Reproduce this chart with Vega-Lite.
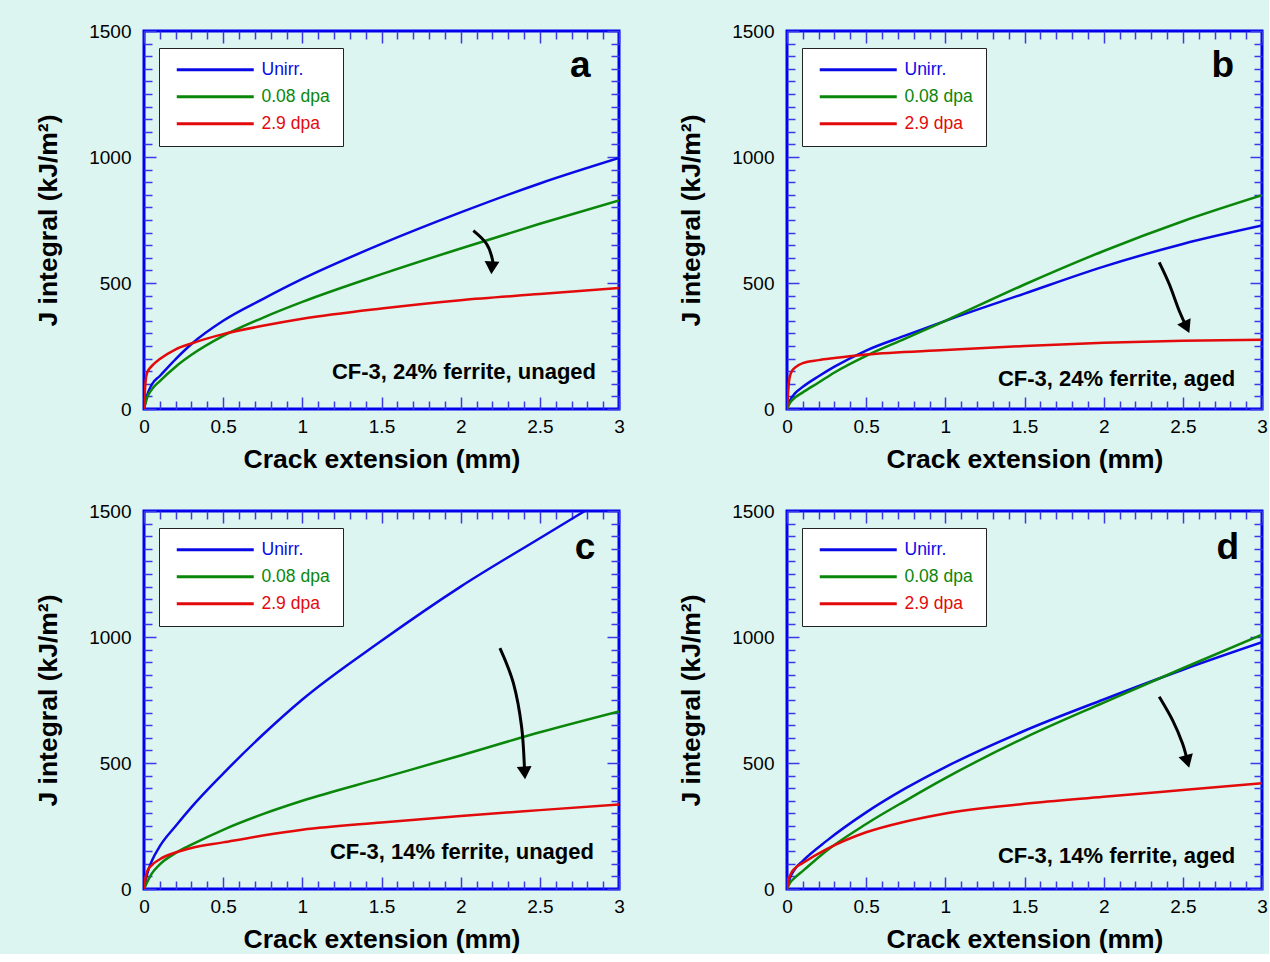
{
  "$schema": "https://vega.github.io/schema/vega-lite/v6.json",
  "background": "#ddf5f0",
  "padding": {"left": 34, "top": 20, "right": 0, "bottom": 0},
  "columns": 2,
  "spacing": {"column": 51, "row": 26},
  "resolve": {"scale": {"color": "independent"}, "legend": {"color": "independent"}},
  "datasets": {
    "curves": [
      {"p":"a","s":"Unirr.","x":0,"J":0},{"p":"a","s":"Unirr.","x":0.02,"J":55},{"p":"a","s":"Unirr.","x":0.05,"J":98},{"p":"a","s":"Unirr.","x":0.1,"J":131},{"p":"a","s":"Unirr.","x":0.2,"J":198},{"p":"a","s":"Unirr.","x":0.3,"J":258},{"p":"a","s":"Unirr.","x":0.5,"J":350},{"p":"a","s":"Unirr.","x":0.75,"J":436},{"p":"a","s":"Unirr.","x":1,"J":516},{"p":"a","s":"Unirr.","x":1.5,"J":655},{"p":"a","s":"Unirr.","x":2,"J":780},{"p":"a","s":"Unirr.","x":2.5,"J":895},{"p":"a","s":"Unirr.","x":3,"J":996},
      {"p":"a","s":"0.08 dpa","x":0,"J":0},{"p":"a","s":"0.08 dpa","x":0.02,"J":45},{"p":"a","s":"0.08 dpa","x":0.05,"J":78},{"p":"a","s":"0.08 dpa","x":0.1,"J":111},{"p":"a","s":"0.08 dpa","x":0.2,"J":168},{"p":"a","s":"0.08 dpa","x":0.3,"J":215},{"p":"a","s":"0.08 dpa","x":0.5,"J":290},{"p":"a","s":"0.08 dpa","x":0.75,"J":362},{"p":"a","s":"0.08 dpa","x":1,"J":425},{"p":"a","s":"0.08 dpa","x":1.5,"J":535},{"p":"a","s":"0.08 dpa","x":2,"J":637},{"p":"a","s":"0.08 dpa","x":2.5,"J":735},{"p":"a","s":"0.08 dpa","x":3,"J":828},
      {"p":"a","s":"2.9 dpa","x":0,"J":0},{"p":"a","s":"2.9 dpa","x":0.01,"J":110},{"p":"a","s":"2.9 dpa","x":0.02,"J":144},{"p":"a","s":"2.9 dpa","x":0.05,"J":171},{"p":"a","s":"2.9 dpa","x":0.1,"J":198},{"p":"a","s":"2.9 dpa","x":0.2,"J":237},{"p":"a","s":"2.9 dpa","x":0.3,"J":260},{"p":"a","s":"2.9 dpa","x":0.5,"J":297},{"p":"a","s":"2.9 dpa","x":0.75,"J":330},{"p":"a","s":"2.9 dpa","x":1,"J":358},{"p":"a","s":"2.9 dpa","x":1.5,"J":399},{"p":"a","s":"2.9 dpa","x":2,"J":432},{"p":"a","s":"2.9 dpa","x":2.5,"J":456},{"p":"a","s":"2.9 dpa","x":3,"J":480},

      {"p":"b","s":"Unirr.","x":0,"J":0},{"p":"b","s":"Unirr.","x":0.02,"J":35},{"p":"b","s":"Unirr.","x":0.05,"J":62},{"p":"b","s":"Unirr.","x":0.1,"J":88},{"p":"b","s":"Unirr.","x":0.2,"J":130},{"p":"b","s":"Unirr.","x":0.3,"J":168},{"p":"b","s":"Unirr.","x":0.5,"J":232},{"p":"b","s":"Unirr.","x":0.75,"J":292},{"p":"b","s":"Unirr.","x":1,"J":350},{"p":"b","s":"Unirr.","x":1.5,"J":458},{"p":"b","s":"Unirr.","x":2,"J":565},{"p":"b","s":"Unirr.","x":2.5,"J":655},{"p":"b","s":"Unirr.","x":3,"J":728},
      {"p":"b","s":"0.08 dpa","x":0,"J":0},{"p":"b","s":"0.08 dpa","x":0.02,"J":25},{"p":"b","s":"0.08 dpa","x":0.05,"J":45},{"p":"b","s":"0.08 dpa","x":0.1,"J":66},{"p":"b","s":"0.08 dpa","x":0.2,"J":105},{"p":"b","s":"0.08 dpa","x":0.3,"J":145},{"p":"b","s":"0.08 dpa","x":0.5,"J":211},{"p":"b","s":"0.08 dpa","x":0.75,"J":280},{"p":"b","s":"0.08 dpa","x":1,"J":350},{"p":"b","s":"0.08 dpa","x":1.5,"J":494},{"p":"b","s":"0.08 dpa","x":2,"J":627},{"p":"b","s":"0.08 dpa","x":2.5,"J":745},{"p":"b","s":"0.08 dpa","x":3,"J":848},
      {"p":"b","s":"2.9 dpa","x":0,"J":0},{"p":"b","s":"2.9 dpa","x":0.015,"J":120},{"p":"b","s":"2.9 dpa","x":0.03,"J":150},{"p":"b","s":"2.9 dpa","x":0.05,"J":164},{"p":"b","s":"2.9 dpa","x":0.1,"J":182},{"p":"b","s":"2.9 dpa","x":0.2,"J":194},{"p":"b","s":"2.9 dpa","x":0.3,"J":202},{"p":"b","s":"2.9 dpa","x":0.5,"J":216},{"p":"b","s":"2.9 dpa","x":1,"J":234},{"p":"b","s":"2.9 dpa","x":1.5,"J":250},{"p":"b","s":"2.9 dpa","x":2,"J":263},{"p":"b","s":"2.9 dpa","x":2.5,"J":271},{"p":"b","s":"2.9 dpa","x":3,"J":275},

      {"p":"c","s":"Unirr.","x":0,"J":0},{"p":"c","s":"Unirr.","x":0.02,"J":60},{"p":"c","s":"Unirr.","x":0.05,"J":112},{"p":"c","s":"Unirr.","x":0.1,"J":170},{"p":"c","s":"Unirr.","x":0.2,"J":250},{"p":"c","s":"Unirr.","x":0.3,"J":325},{"p":"c","s":"Unirr.","x":0.5,"J":458},{"p":"c","s":"Unirr.","x":0.75,"J":612},{"p":"c","s":"Unirr.","x":1,"J":752},{"p":"c","s":"Unirr.","x":1.5,"J":985},{"p":"c","s":"Unirr.","x":2,"J":1200},{"p":"c","s":"Unirr.","x":2.5,"J":1392},{"p":"c","s":"Unirr.","x":2.75,"J":1487},{"p":"c","s":"Unirr.","x":3,"J":1581},
      {"p":"c","s":"0.08 dpa","x":0,"J":0},{"p":"c","s":"0.08 dpa","x":0.05,"J":62},{"p":"c","s":"0.08 dpa","x":0.1,"J":98},{"p":"c","s":"0.08 dpa","x":0.2,"J":143},{"p":"c","s":"0.08 dpa","x":0.3,"J":176},{"p":"c","s":"0.08 dpa","x":0.5,"J":235},{"p":"c","s":"0.08 dpa","x":0.75,"J":297},{"p":"c","s":"0.08 dpa","x":1,"J":350},{"p":"c","s":"0.08 dpa","x":1.5,"J":440},{"p":"c","s":"0.08 dpa","x":2,"J":530},{"p":"c","s":"0.08 dpa","x":2.5,"J":622},{"p":"c","s":"0.08 dpa","x":3,"J":705},
      {"p":"c","s":"2.9 dpa","x":0,"J":0},{"p":"c","s":"2.9 dpa","x":0.01,"J":45},{"p":"c","s":"2.9 dpa","x":0.02,"J":70},{"p":"c","s":"2.9 dpa","x":0.05,"J":95},{"p":"c","s":"2.9 dpa","x":0.1,"J":118},{"p":"c","s":"2.9 dpa","x":0.2,"J":145},{"p":"c","s":"2.9 dpa","x":0.3,"J":163},{"p":"c","s":"2.9 dpa","x":0.5,"J":185},{"p":"c","s":"2.9 dpa","x":0.75,"J":212},{"p":"c","s":"2.9 dpa","x":1,"J":235},{"p":"c","s":"2.9 dpa","x":1.5,"J":264},{"p":"c","s":"2.9 dpa","x":2,"J":290},{"p":"c","s":"2.9 dpa","x":2.5,"J":313},{"p":"c","s":"2.9 dpa","x":3,"J":335},

      {"p":"d","s":"Unirr.","x":0,"J":0},{"p":"d","s":"Unirr.","x":0.02,"J":45},{"p":"d","s":"Unirr.","x":0.05,"J":79},{"p":"d","s":"Unirr.","x":0.1,"J":112},{"p":"d","s":"Unirr.","x":0.25,"J":191},{"p":"d","s":"Unirr.","x":0.5,"J":304},{"p":"d","s":"Unirr.","x":0.75,"J":400},{"p":"d","s":"Unirr.","x":1,"J":484},{"p":"d","s":"Unirr.","x":1.5,"J":628},{"p":"d","s":"Unirr.","x":2,"J":752},{"p":"d","s":"Unirr.","x":2.5,"J":870},{"p":"d","s":"Unirr.","x":3,"J":979},
      {"p":"d","s":"0.08 dpa","x":0,"J":0},{"p":"d","s":"0.08 dpa","x":0.02,"J":25},{"p":"d","s":"0.08 dpa","x":0.05,"J":45},{"p":"d","s":"0.08 dpa","x":0.1,"J":72},{"p":"d","s":"0.08 dpa","x":0.25,"J":152},{"p":"d","s":"0.08 dpa","x":0.5,"J":258},{"p":"d","s":"0.08 dpa","x":0.75,"J":351},{"p":"d","s":"0.08 dpa","x":1,"J":440},{"p":"d","s":"0.08 dpa","x":1.5,"J":600},{"p":"d","s":"0.08 dpa","x":2,"J":740},{"p":"d","s":"0.08 dpa","x":2.5,"J":876},{"p":"d","s":"0.08 dpa","x":3,"J":1009},
      {"p":"d","s":"2.9 dpa","x":0,"J":0},{"p":"d","s":"2.9 dpa","x":0.01,"J":35},{"p":"d","s":"2.9 dpa","x":0.02,"J":55},{"p":"d","s":"2.9 dpa","x":0.05,"J":82},{"p":"d","s":"2.9 dpa","x":0.1,"J":103},{"p":"d","s":"2.9 dpa","x":0.25,"J":158},{"p":"d","s":"2.9 dpa","x":0.5,"J":225},{"p":"d","s":"2.9 dpa","x":0.75,"J":268},{"p":"d","s":"2.9 dpa","x":1,"J":300},{"p":"d","s":"2.9 dpa","x":1.5,"J":338},{"p":"d","s":"2.9 dpa","x":2,"J":366},{"p":"d","s":"2.9 dpa","x":2.5,"J":393},{"p":"d","s":"2.9 dpa","x":3,"J":420}
    ],
    "arrows": [
      {"p":"a","i":1,"x":2.080,"J":708},{"p":"a","i":2,"x":2.164,"J":655},{"p":"a","i":3,"x":2.202,"J":589},{"p":"a","i":4,"x":2.196,"J":560},
      {"p":"b","i":1,"x":2.351,"J":582},{"p":"b","i":2,"x":2.414,"J":496},{"p":"b","i":3,"x":2.477,"J":390},{"p":"b","i":4,"x":2.524,"J":325},
      {"p":"c","i":1,"x":2.248,"J":956},{"p":"c","i":2,"x":2.333,"J":817},{"p":"c","i":3,"x":2.385,"J":643},{"p":"c","i":4,"x":2.404,"J":461},
      {"p":"d","i":1,"x":2.351,"J":763},{"p":"d","i":2,"x":2.435,"J":670},{"p":"d","i":3,"x":2.498,"J":577},{"p":"d","i":4,"x":2.529,"J":506}
    ],
    "notes": [
      {"p":"a","letter":"a","note":"CF-3, 24% ferrite, unaged"},
      {"p":"b","letter":"b","note":"CF-3, 24% ferrite, aged"},
      {"p":"c","letter":"c","note":"CF-3, 14% ferrite, unaged"},
      {"p":"d","letter":"d","note":"CF-3, 14% ferrite, aged"}
    ]
  },
  "concat": [
    {
      "width": 475, "height": 378,
      "resolve": {"axis": {"x": "independent", "y": "independent"}},
      "layer": [
        {
          "data": {"name": "curves"}, "transform": [{"filter": "datum.p === 'a'"}],
          "mark": {"type": "line", "clip": true, "strokeWidth": 2.5, "interpolate": "monotone"},
          "encoding": {
            "x": {"field": "x", "type": "quantitative", "scale": {"domain": [0, 3], "nice": false, "zero": false},
              "axis": {"orient": "bottom", "values": [0,0.1,0.2,0.3,0.4,0.5,0.6,0.7,0.8,0.9,1,1.1,1.2,1.3,1.4,1.5,1.6,1.7,1.8,1.9,2,2.1,2.2,2.3,2.4,2.5,2.6,2.7,2.8,2.9,3],
                "tickSize": {"condition": {"test": "abs(datum.value*2-round(datum.value*2))<0.001", "value": -12}, "value": -8},
                "labelExpr": "abs(datum.value*2-round(datum.value*2))<0.001 ? format(datum.value,'~g') : ''",
                "labelPadding": 20, "labelBaseline": "top", "title": "Crack extension (mm)", "titlePadding": 6}},
            "y": {"field": "J", "type": "quantitative", "scale": {"domain": [0, 1500], "nice": false},
              "axis": {"orient": "left", "values": [0,50,100,150,200,250,300,350,400,450,500,550,600,650,700,750,800,850,900,950,1000,1050,1100,1150,1200,1250,1300,1350,1400,1450,1500],
                "tickSize": {"condition": {"test": "datum.value % 500 === 0", "value": -12}, "value": -8},
                "labelExpr": "datum.value % 500 === 0 ? format(datum.value,'d') : ''",
                "labelPadding": 25, "labelBaseline": "middle", "title": "J integral (kJ/m²)", "titlePadding": 26}},
            "color": {"field": "s", "type": "nominal",
              "scale": {"domain": ["Unirr.", "0.08 dpa", "2.9 dpa"], "range": ["#0a0ae6", "#0a870a", "#e20a0a"]},
              "legend": {"title": null, "orient": "none", "legendX": 15, "legendY": 17,
                "encoding": {"labels": {"fill": {"value": {"expr": "datum.value === 'Unirr.' ? '#0a0ae6' : datum.value === '0.08 dpa' ? '#0a870a' : '#e20a0a'"}}}}}}
          }
        },
        {
          "data": {"name": "arrows"}, "transform": [{"filter": "datum.p === 'a'"}],
          "mark": {"type": "line", "interpolate": "cardinal", "color": "black", "strokeWidth": 3},
          "encoding": {
            "x": {"field": "x", "type": "quantitative", "axis": {"orient": "top", "values": [0,0.1,0.2,0.3,0.4,0.5,0.6,0.7,0.8,0.9,1,1.1,1.2,1.3,1.4,1.5,1.6,1.7,1.8,1.9,2,2.1,2.2,2.3,2.4,2.5,2.6,2.7,2.8,2.9,3],
              "tickSize": {"condition": {"test": "abs(datum.value*2-round(datum.value*2))<0.001", "value": -12}, "value": -8}, "labels": false, "title": null}},
            "y": {"field": "J", "type": "quantitative", "axis": {"orient": "right", "values": [0,50,100,150,200,250,300,350,400,450,500,550,600,650,700,750,800,850,900,950,1000,1050,1100,1150,1200,1250,1300,1350,1400,1450,1500],
              "tickSize": {"condition": {"test": "datum.value % 500 === 0", "value": -12}, "value": -8}, "labels": false, "title": null}},
            "order": {"field": "i"}
          }
        },
        {
          "data": {"name": "arrows"}, "transform": [{"filter": "datum.p === 'a' && datum.i === 4"}],
          "mark": {"type": "point", "shape": "triangle-down", "filled": true, "color": "black", "opacity": 1, "size": 220, "angle": 3},
          "encoding": {"x": {"field": "x", "type": "quantitative", "axis": null}, "y": {"field": "J", "type": "quantitative", "axis": null}}
        },
        {
          "data": {"name": "notes"}, "transform": [{"filter": "datum.p === 'a'"}],
          "mark": {"type": "text", "align": "right", "baseline": "alphabetic", "font": "Liberation Sans", "fontWeight": "bold", "fontSize": 22, "color": "black"},
          "encoding": {"x": {"datum": 2.855, "type": "quantitative", "axis": null}, "y": {"datum": 118, "type": "quantitative", "axis": null}, "text": {"field": "note"}}
        },
        {
          "data": {"name": "notes"}, "transform": [{"filter": "datum.p === 'a'"}],
          "mark": {"type": "text", "align": "right", "baseline": "alphabetic", "font": "Liberation Sans", "fontWeight": "bold", "fontSize": 37, "color": "black"},
          "encoding": {"x": {"datum": 2.82, "type": "quantitative", "axis": null}, "y": {"datum": 1318, "type": "quantitative", "axis": null}, "text": {"field": "letter"}}
        }
      ]
    },
    {
      "width": 475, "height": 378,
      "resolve": {"axis": {"x": "independent", "y": "independent"}},
      "layer": [
        {
          "data": {"name": "curves"}, "transform": [{"filter": "datum.p === 'b'"}],
          "mark": {"type": "line", "clip": true, "strokeWidth": 2.5, "interpolate": "monotone"},
          "encoding": {
            "x": {"field": "x", "type": "quantitative", "scale": {"domain": [0, 3], "nice": false, "zero": false},
              "axis": {"orient": "bottom", "values": [0,0.1,0.2,0.3,0.4,0.5,0.6,0.7,0.8,0.9,1,1.1,1.2,1.3,1.4,1.5,1.6,1.7,1.8,1.9,2,2.1,2.2,2.3,2.4,2.5,2.6,2.7,2.8,2.9,3],
                "tickSize": {"condition": {"test": "abs(datum.value*2-round(datum.value*2))<0.001", "value": -12}, "value": -8},
                "labelExpr": "abs(datum.value*2-round(datum.value*2))<0.001 ? format(datum.value,'~g') : ''",
                "labelPadding": 20, "labelBaseline": "top", "title": "Crack extension (mm)", "titlePadding": 6}},
            "y": {"field": "J", "type": "quantitative", "scale": {"domain": [0, 1500], "nice": false},
              "axis": {"orient": "left", "values": [0,50,100,150,200,250,300,350,400,450,500,550,600,650,700,750,800,850,900,950,1000,1050,1100,1150,1200,1250,1300,1350,1400,1450,1500],
                "tickSize": {"condition": {"test": "datum.value % 500 === 0", "value": -12}, "value": -8},
                "labelExpr": "datum.value % 500 === 0 ? format(datum.value,'d') : ''",
                "labelPadding": 25, "labelBaseline": "middle", "title": "J integral (kJ/m²)", "titlePadding": 26}},
            "color": {"field": "s", "type": "nominal",
              "scale": {"domain": ["Unirr.", "0.08 dpa", "2.9 dpa"], "range": ["#0a0ae6", "#0a870a", "#e20a0a"]},
              "legend": {"title": null, "orient": "none", "legendX": 15, "legendY": 17,
                "encoding": {"labels": {"fill": {"value": {"expr": "datum.value === 'Unirr.' ? '#0a0ae6' : datum.value === '0.08 dpa' ? '#0a870a' : '#e20a0a'"}}}}}}
          }
        },
        {
          "data": {"name": "arrows"}, "transform": [{"filter": "datum.p === 'b'"}],
          "mark": {"type": "line", "interpolate": "cardinal", "color": "black", "strokeWidth": 3},
          "encoding": {
            "x": {"field": "x", "type": "quantitative", "axis": {"orient": "top", "values": [0,0.1,0.2,0.3,0.4,0.5,0.6,0.7,0.8,0.9,1,1.1,1.2,1.3,1.4,1.5,1.6,1.7,1.8,1.9,2,2.1,2.2,2.3,2.4,2.5,2.6,2.7,2.8,2.9,3],
              "tickSize": {"condition": {"test": "abs(datum.value*2-round(datum.value*2))<0.001", "value": -12}, "value": -8}, "labels": false, "title": null}},
            "y": {"field": "J", "type": "quantitative", "axis": {"orient": "right", "values": [0,50,100,150,200,250,300,350,400,450,500,550,600,650,700,750,800,850,900,950,1000,1050,1100,1150,1200,1250,1300,1350,1400,1450,1500],
              "tickSize": {"condition": {"test": "datum.value % 500 === 0", "value": -12}, "value": -8}, "labels": false, "title": null}},
            "order": {"field": "i"}
          }
        },
        {
          "data": {"name": "arrows"}, "transform": [{"filter": "datum.p === 'b' && datum.i === 4"}],
          "mark": {"type": "point", "shape": "triangle-down", "filled": true, "color": "black", "opacity": 1, "size": 220, "angle": -25},
          "encoding": {"x": {"field": "x", "type": "quantitative", "axis": null}, "y": {"field": "J", "type": "quantitative", "axis": null}}
        },
        {
          "data": {"name": "notes"}, "transform": [{"filter": "datum.p === 'b'"}],
          "mark": {"type": "text", "align": "right", "baseline": "alphabetic", "font": "Liberation Sans", "fontWeight": "bold", "fontSize": 22, "color": "black"},
          "encoding": {"x": {"datum": 2.83, "type": "quantitative", "axis": null}, "y": {"datum": 92, "type": "quantitative", "axis": null}, "text": {"field": "note"}}
        },
        {
          "data": {"name": "notes"}, "transform": [{"filter": "datum.p === 'b'"}],
          "mark": {"type": "text", "align": "right", "baseline": "alphabetic", "font": "Liberation Sans", "fontWeight": "bold", "fontSize": 37, "color": "black"},
          "encoding": {"x": {"datum": 2.824, "type": "quantitative", "axis": null}, "y": {"datum": 1318, "type": "quantitative", "axis": null}, "text": {"field": "letter"}}
        }
      ]
    },
    {
      "width": 475, "height": 378,
      "resolve": {"axis": {"x": "independent", "y": "independent"}},
      "layer": [
        {
          "data": {"name": "curves"}, "transform": [{"filter": "datum.p === 'c'"}],
          "mark": {"type": "line", "clip": true, "strokeWidth": 2.5, "interpolate": "monotone"},
          "encoding": {
            "x": {"field": "x", "type": "quantitative", "scale": {"domain": [0, 3], "nice": false, "zero": false},
              "axis": {"orient": "bottom", "values": [0,0.1,0.2,0.3,0.4,0.5,0.6,0.7,0.8,0.9,1,1.1,1.2,1.3,1.4,1.5,1.6,1.7,1.8,1.9,2,2.1,2.2,2.3,2.4,2.5,2.6,2.7,2.8,2.9,3],
                "tickSize": {"condition": {"test": "abs(datum.value*2-round(datum.value*2))<0.001", "value": -12}, "value": -8},
                "labelExpr": "abs(datum.value*2-round(datum.value*2))<0.001 ? format(datum.value,'~g') : ''",
                "labelPadding": 20, "labelBaseline": "top", "title": "Crack extension (mm)", "titlePadding": 6}},
            "y": {"field": "J", "type": "quantitative", "scale": {"domain": [0, 1500], "nice": false},
              "axis": {"orient": "left", "values": [0,50,100,150,200,250,300,350,400,450,500,550,600,650,700,750,800,850,900,950,1000,1050,1100,1150,1200,1250,1300,1350,1400,1450,1500],
                "tickSize": {"condition": {"test": "datum.value % 500 === 0", "value": -12}, "value": -8},
                "labelExpr": "datum.value % 500 === 0 ? format(datum.value,'d') : ''",
                "labelPadding": 25, "labelBaseline": "middle", "title": "J integral (kJ/m²)", "titlePadding": 26}},
            "color": {"field": "s", "type": "nominal",
              "scale": {"domain": ["Unirr.", "0.08 dpa", "2.9 dpa"], "range": ["#0a0ae6", "#0a870a", "#e20a0a"]},
              "legend": {"title": null, "orient": "none", "legendX": 15, "legendY": 17,
                "encoding": {"labels": {"fill": {"value": {"expr": "datum.value === 'Unirr.' ? '#0a0ae6' : datum.value === '0.08 dpa' ? '#0a870a' : '#e20a0a'"}}}}}}
          }
        },
        {
          "data": {"name": "arrows"}, "transform": [{"filter": "datum.p === 'c'"}],
          "mark": {"type": "line", "interpolate": "cardinal", "color": "black", "strokeWidth": 3},
          "encoding": {
            "x": {"field": "x", "type": "quantitative", "axis": {"orient": "top", "values": [0,0.1,0.2,0.3,0.4,0.5,0.6,0.7,0.8,0.9,1,1.1,1.2,1.3,1.4,1.5,1.6,1.7,1.8,1.9,2,2.1,2.2,2.3,2.4,2.5,2.6,2.7,2.8,2.9,3],
              "tickSize": {"condition": {"test": "abs(datum.value*2-round(datum.value*2))<0.001", "value": -12}, "value": -8}, "labels": false, "title": null}},
            "y": {"field": "J", "type": "quantitative", "axis": {"orient": "right", "values": [0,50,100,150,200,250,300,350,400,450,500,550,600,650,700,750,800,850,900,950,1000,1050,1100,1150,1200,1250,1300,1350,1400,1450,1500],
              "tickSize": {"condition": {"test": "datum.value % 500 === 0", "value": -12}, "value": -8}, "labels": false, "title": null}},
            "order": {"field": "i"}
          }
        },
        {
          "data": {"name": "arrows"}, "transform": [{"filter": "datum.p === 'c' && datum.i === 4"}],
          "mark": {"type": "point", "shape": "triangle-down", "filled": true, "color": "black", "opacity": 1, "size": 220, "angle": -4},
          "encoding": {"x": {"field": "x", "type": "quantitative", "axis": null}, "y": {"field": "J", "type": "quantitative", "axis": null}}
        },
        {
          "data": {"name": "notes"}, "transform": [{"filter": "datum.p === 'c'"}],
          "mark": {"type": "text", "align": "right", "baseline": "alphabetic", "font": "Liberation Sans", "fontWeight": "bold", "fontSize": 22, "color": "black"},
          "encoding": {"x": {"datum": 2.842, "type": "quantitative", "axis": null}, "y": {"datum": 118, "type": "quantitative", "axis": null}, "text": {"field": "note"}}
        },
        {
          "data": {"name": "notes"}, "transform": [{"filter": "datum.p === 'c'"}],
          "mark": {"type": "text", "align": "right", "baseline": "alphabetic", "font": "Liberation Sans", "fontWeight": "bold", "fontSize": 37, "color": "black"},
          "encoding": {"x": {"datum": 2.85, "type": "quantitative", "axis": null}, "y": {"datum": 1308, "type": "quantitative", "axis": null}, "text": {"field": "letter"}}
        }
      ]
    },
    {
      "width": 475, "height": 378,
      "resolve": {"axis": {"x": "independent", "y": "independent"}},
      "layer": [
        {
          "data": {"name": "curves"}, "transform": [{"filter": "datum.p === 'd'"}],
          "mark": {"type": "line", "clip": true, "strokeWidth": 2.5, "interpolate": "monotone"},
          "encoding": {
            "x": {"field": "x", "type": "quantitative", "scale": {"domain": [0, 3], "nice": false, "zero": false},
              "axis": {"orient": "bottom", "values": [0,0.1,0.2,0.3,0.4,0.5,0.6,0.7,0.8,0.9,1,1.1,1.2,1.3,1.4,1.5,1.6,1.7,1.8,1.9,2,2.1,2.2,2.3,2.4,2.5,2.6,2.7,2.8,2.9,3],
                "tickSize": {"condition": {"test": "abs(datum.value*2-round(datum.value*2))<0.001", "value": -12}, "value": -8},
                "labelExpr": "abs(datum.value*2-round(datum.value*2))<0.001 ? format(datum.value,'~g') : ''",
                "labelPadding": 20, "labelBaseline": "top", "title": "Crack extension (mm)", "titlePadding": 6}},
            "y": {"field": "J", "type": "quantitative", "scale": {"domain": [0, 1500], "nice": false},
              "axis": {"orient": "left", "values": [0,50,100,150,200,250,300,350,400,450,500,550,600,650,700,750,800,850,900,950,1000,1050,1100,1150,1200,1250,1300,1350,1400,1450,1500],
                "tickSize": {"condition": {"test": "datum.value % 500 === 0", "value": -12}, "value": -8},
                "labelExpr": "datum.value % 500 === 0 ? format(datum.value,'d') : ''",
                "labelPadding": 25, "labelBaseline": "middle", "title": "J integral (kJ/m²)", "titlePadding": 26}},
            "color": {"field": "s", "type": "nominal",
              "scale": {"domain": ["Unirr.", "0.08 dpa", "2.9 dpa"], "range": ["#0a0ae6", "#0a870a", "#e20a0a"]},
              "legend": {"title": null, "orient": "none", "legendX": 15, "legendY": 17,
                "encoding": {"labels": {"fill": {"value": {"expr": "datum.value === 'Unirr.' ? '#0a0ae6' : datum.value === '0.08 dpa' ? '#0a870a' : '#e20a0a'"}}}}}}
          }
        },
        {
          "data": {"name": "arrows"}, "transform": [{"filter": "datum.p === 'd'"}],
          "mark": {"type": "line", "interpolate": "cardinal", "color": "black", "strokeWidth": 3},
          "encoding": {
            "x": {"field": "x", "type": "quantitative", "axis": {"orient": "top", "values": [0,0.1,0.2,0.3,0.4,0.5,0.6,0.7,0.8,0.9,1,1.1,1.2,1.3,1.4,1.5,1.6,1.7,1.8,1.9,2,2.1,2.2,2.3,2.4,2.5,2.6,2.7,2.8,2.9,3],
              "tickSize": {"condition": {"test": "abs(datum.value*2-round(datum.value*2))<0.001", "value": -12}, "value": -8}, "labels": false, "title": null}},
            "y": {"field": "J", "type": "quantitative", "axis": {"orient": "right", "values": [0,50,100,150,200,250,300,350,400,450,500,550,600,650,700,750,800,850,900,950,1000,1050,1100,1150,1200,1250,1300,1350,1400,1450,1500],
              "tickSize": {"condition": {"test": "datum.value % 500 === 0", "value": -12}, "value": -8}, "labels": false, "title": null}},
            "order": {"field": "i"}
          }
        },
        {
          "data": {"name": "arrows"}, "transform": [{"filter": "datum.p === 'd' && datum.i === 4"}],
          "mark": {"type": "point", "shape": "triangle-down", "filled": true, "color": "black", "opacity": 1, "size": 220, "angle": -16},
          "encoding": {"x": {"field": "x", "type": "quantitative", "axis": null}, "y": {"field": "J", "type": "quantitative", "axis": null}}
        },
        {
          "data": {"name": "notes"}, "transform": [{"filter": "datum.p === 'd'"}],
          "mark": {"type": "text", "align": "right", "baseline": "alphabetic", "font": "Liberation Sans", "fontWeight": "bold", "fontSize": 22, "color": "black"},
          "encoding": {"x": {"datum": 2.83, "type": "quantitative", "axis": null}, "y": {"datum": 105, "type": "quantitative", "axis": null}, "text": {"field": "note"}}
        },
        {
          "data": {"name": "notes"}, "transform": [{"filter": "datum.p === 'd'"}],
          "mark": {"type": "text", "align": "right", "baseline": "alphabetic", "font": "Liberation Sans", "fontWeight": "bold", "fontSize": 37, "color": "black"},
          "encoding": {"x": {"datum": 2.855, "type": "quantitative", "axis": null}, "y": {"datum": 1308, "type": "quantitative", "axis": null}, "text": {"field": "letter"}}
        }
      ]
    }
  ],
  "config": {
    "view": {"stroke": "#0000ee", "strokeWidth": 3},
    "axis": {"domain": false, "grid": false, "tickColor": "#3a3ae6", "tickWidth": 1.5,
      "labelFont": "Liberation Sans", "labelFontSize": 19, "labelColor": "#000",
      "titleFont": "Liberation Sans", "titleFontSize": 26.5, "titleFontWeight": "bold", "titleColor": "#000",
      "labelFlush": false, "labelOverlap": false},
    "legend": {"fillColor": "white", "strokeColor": "#222", "padding": 13,
      "symbolType": "M-1,0H37.5", "symbolSize": 16, "symbolStrokeWidth": 3, "symbolOffset": -2,
      "labelOffset": 74, "labelFont": "Liberation Sans", "labelFontSize": 17.5, "rowPadding": 8, "labelLimit": 300}
  }
}
